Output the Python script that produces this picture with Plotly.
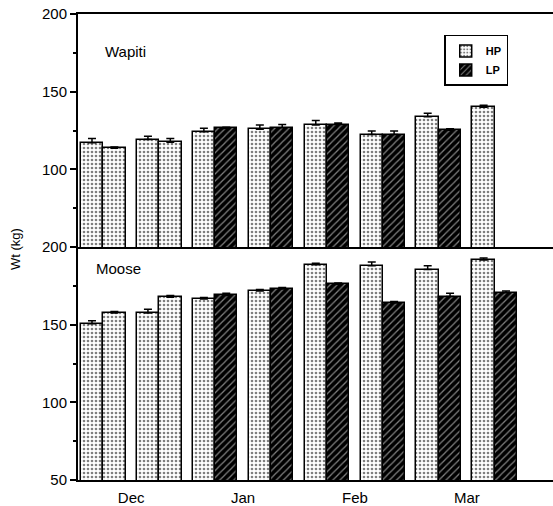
import plotly.graph_objects as go

# ---- data ----
pairs = [1, 2, 3, 4, 5, 6, 7, 8]
month_ticks = [1.5, 3.5, 5.5, 7.5]
month_labels = ["Dec", "Jan", "Feb", "Mar"]

wapiti_hp = [117.1, 119.2, 124.2, 125.8, 128.6, 122.4, 133.8, 140.0]
wapiti_hp_err = [2.8, 2.1, 2.3, 2.8, 2.8, 2.2, 2.3, 1.2]
wapiti_lp = [113.5, 117.5, 126.3, 126.7, 128.8, 122.4, 125.2, None]
wapiti_lp_err = [0.8, 2.4, 0.8, 2.1, 1.1, 2.2, 0.9, 0]

moose_hp = [150.6, 157.5, 166.5, 171.6, 188.5, 188.0, 185.5, 191.7]
moose_hp_err = [2.0, 2.5, 1.0, 1.0, 1.0, 2.4, 2.5, 1.2]
moose_lp = [157.5, 167.7, 168.8, 172.9, 175.9, 163.9, 168.1, 170.5]
moose_lp_err = [1.0, 1.0, 1.5, 1.0, 1.0, 1.0, 2.2, 1.1]

dec_pairs = 2  # pairs in Dec where LP group drawn with HP pattern

FONT = "Liberation Sans, Arial, Helvetica, sans-serif"
dot_pat = dict(shape=".", fgcolor="black", bgcolor="white", size=4, solidity=0.35)
hatch_pat = dict(shape="/", fgcolor="white", bgcolor="black", size=5, solidity=0.25)

fig = go.Figure()


def add_bars(xs, ys, errs, pat, offset, yaxis, xaxis, name, showlegend):
    fig.add_trace(go.Bar(
        x=xs, y=ys, width=0.4, offset=offset, name=name, showlegend=showlegend,
        xaxis=xaxis, yaxis=yaxis,
        marker=dict(color="white", pattern=pat, line=dict(color="black", width=1.5)),
        error_y=dict(type="data", symmetric=False, array=errs,
                     arrayminus=[0] * len(errs), color="black", thickness=1.5, width=4),
    ))


for (hp, hpe, lp, lpe, xa, ya, leg) in [
    (wapiti_hp, wapiti_hp_err, wapiti_lp, wapiti_lp_err, "x2", "y2", True),
    (moose_hp, moose_hp_err, moose_lp, moose_lp_err, "x", "y", False),
]:
    add_bars(pairs, hp, hpe, dot_pat, -0.4, ya, xa, "HP", leg)
    add_bars(pairs[dec_pairs:], lp[dec_pairs:], lpe[dec_pairs:], hatch_pat, 0.0, ya, xa, "LP", leg)
    add_bars(pairs[:dec_pairs], lp[:dec_pairs], lpe[:dec_pairs], dot_pat, 0.0, ya, xa, "LP", False)

xr = [0.55, 9.04]
fig.update_layout(
    width=553, height=506,
    margin=dict(l=78, r=0, t=14, b=24),
    paper_bgcolor="white", plot_bgcolor="white",
    barmode="overlay", bargap=0,
    font=dict(family=FONT, size=15, color="black"),
    showlegend=True,
    legend=dict(x=0.771, y=0.955, xanchor="left", yanchor="top",
                bordercolor="black", borderwidth=1.5, bgcolor="white",
                font=dict(size=11, family=FONT, weight="bold"),
                traceorder="normal", itemwidth=30, tracegroupgap=2),
    xaxis=dict(domain=[0, 1], range=xr, anchor="y", tickvals=month_ticks, ticktext=month_labels,
               ticks="", showline=True, linecolor="black", linewidth=2, mirror=False,
               showgrid=False, zeroline=False, ticklabelstandoff=3),
    xaxis2=dict(domain=[0, 1], range=xr, anchor="y2", showticklabels=False, ticks="",
                showline=True, linecolor="black", linewidth=2, mirror=True,
                showgrid=False, zeroline=False),
    yaxis=dict(domain=[0, 0.5], range=[50, 200], tickvals=[50, 100, 150, 200],
               ticks="outside", ticklen=6, tickwidth=1.5, tickcolor="black",
               minor=dict(tickvals=[75, 125, 175], ticks="outside", ticklen=3, tickcolor="black"),
               showline=True, linecolor="black", linewidth=2, showgrid=False, zeroline=False),
    yaxis2=dict(domain=[0.5, 1], range=[50, 200], tickvals=[100, 150, 200],
                ticks="outside", ticklen=6, tickwidth=1.5, tickcolor="black",
                minor=dict(tickvals=[75, 125, 175], ticks="outside", ticklen=3, tickcolor="black"),
                showline=True, linecolor="black", linewidth=2, showgrid=False, zeroline=False),
    annotations=[
        dict(text="Wapiti", x=1.0, y=175.6, xref="x2", yref="y2", xanchor="left",
             yanchor="middle", showarrow=False, font=dict(size=15)),
        dict(text="Moose", x=0.84, y=185.9, xref="x", yref="y", xanchor="left",
             yanchor="middle", showarrow=False, font=dict(size=15)),
        dict(text="Wt (kg)", x=-0.13, y=0.496, xref="paper", yref="paper", textangle=-90,
             xanchor="center", yanchor="middle", showarrow=False, font=dict(size=13)),
    ],
)

fig.write_html("out.html")
